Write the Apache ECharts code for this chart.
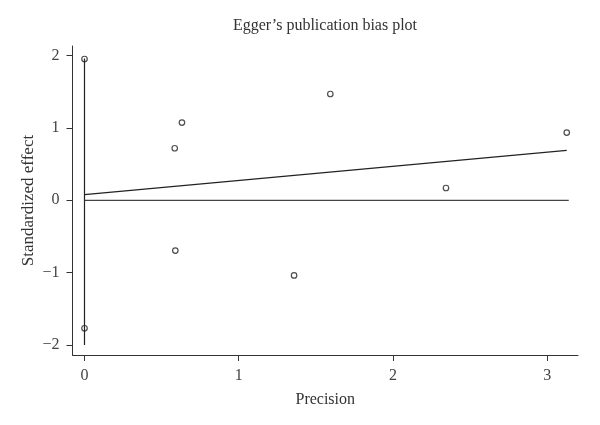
<!DOCTYPE html>
<html>
<head>
<meta charset="utf-8">
<script src="https://cdn.jsdelivr.net/npm/echarts@6/dist/echarts.min.js"></script>
<style>
html,body{margin:0;padding:0;background:#fff;}
#chart{width:600px;height:425px;}
</style>
</head>
<body>
<div id="chart"></div>
<script>
// Data
const precision = [0, 0, 0.585, 0.632, 0.589, 1.594, 1.359, 2.344, 3.127];
const stdEffect = [1.954, -1.77, 0.72, 1.075, -0.696, 1.47, -1.04, 0.17, 0.936];
const eggerFitX = [0, 3.127];
const eggerFitY = [0.079, 0.69];
const zeroLineX = [0, 3.14];
const zeroLineY = [0, 0];
const interceptCIX = [0, 0];
const interceptCIY = [1.96, -2.0];
const xTicks = [0, 1, 2, 3];
const yTicks = [-2, -1, 0, 1, 2];

const font = 'Liberation Serif';
const textColor = '#333';
const pair = (xs, ys) => xs.map((x, i) => [x, ys[i]]);
const fmt = v => String(v).replace('-', '\u2212');

const chart = echarts.init(document.getElementById('chart'), null, {renderer: 'canvas'});
chart.setOption({
  animation: false,
  backgroundColor: '#fff',
  title: {
    text: 'Egger\u2019s publication bias plot',
    left: 325,
    textAlign: 'center',
    top: 18,
    padding: 0,
    textStyle: {fontFamily: font, fontSize: 16, fontWeight: 'normal', color: textColor}
  },
  grid: {left: 72.5, right: 22, top: 46, bottom: 70, containLabel: false, outerBoundsMode: 'none'},
  xAxis: {
    type: 'value',
    min: -0.0778,
    max: 3.2,
    name: 'Precision',
    nameLocation: 'middle',
    nameGap: 37,
    nameMoveOverlap: false,
    nameTextStyle: {fontFamily: font, fontSize: 16, color: textColor},
    axisLine: {show: true, onZero: false, lineStyle: {color: '#333', width: 1}},
    axisTick: {show: true, inside: false, length: 6, customValues: xTicks, lineStyle: {color: '#333'}},
    axisLabel: {customValues: xTicks, margin: 13, fontFamily: font, fontSize: 16, color: '#444', formatter: fmt},
    splitLine: {show: false}
  },
  yAxis: {
    type: 'value',
    min: -2.14,
    max: 2.134,
    name: 'Standardized effect',
    nameLocation: 'middle',
    nameGap: 35,
    nameMoveOverlap: false,
    nameRotate: 90,
    nameTextStyle: {fontFamily: font, fontSize: 17, color: textColor},
    axisLine: {show: true, onZero: false, lineStyle: {color: '#333', width: 1}},
    axisTick: {show: true, inside: false, length: 6, customValues: yTicks, lineStyle: {color: '#333'}},
    axisLabel: {customValues: yTicks, margin: 13, fontFamily: font, fontSize: 16, color: '#444', formatter: fmt},
    splitLine: {show: false}
  },
  series: [
    {
      type: 'line', data: pair(zeroLineX, zeroLineY), symbol: 'none', silent: true,
      lineStyle: {color: '#444', width: 1.2}
    },
    {
      type: 'line', data: pair(interceptCIX, interceptCIY), symbol: 'none', silent: true,
      lineStyle: {color: '#222', width: 1.2}
    },
    {
      type: 'line', data: pair(eggerFitX, eggerFitY), symbol: 'none', silent: true,
      lineStyle: {color: '#222', width: 1.2}
    },
    {
      type: 'scatter', data: pair(precision, stdEffect), symbol: 'circle', symbolSize: 5.5,
      itemStyle: {color: '#fff', borderColor: '#222', borderWidth: 1.2}
    }
  ]
});
</script>
</body>
</html>
